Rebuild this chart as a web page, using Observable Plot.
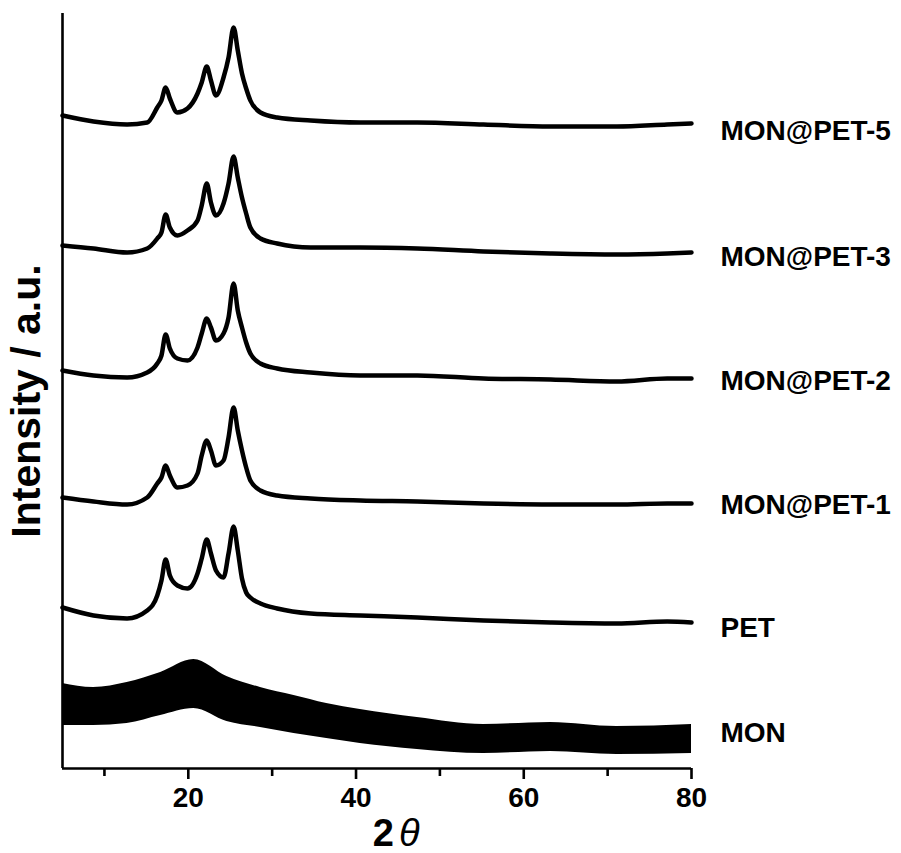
<!DOCTYPE html>
<html><head><meta charset="utf-8">
<script src="https://cdn.jsdelivr.net/npm/d3@7"></script>
<script src="https://cdn.jsdelivr.net/npm/@observablehq/plot@0.6"></script>
<style>body{margin:0;background:#fff} #chart svg{display:block}</style>
</head><body><div id="chart"></div>
<script>
// 2θ sampling positions (degrees)
const theta = [5, 8.7, 12.7, 15.1, 16.3, 16.8, 17.3, 17.8, 18.7, 19.9, 21.1, 21.6, 22.2, 22.7, 23.3, 24.2, 24.8, 25.4, 25.9, 26.4, 26.9, 27.4, 28.6, 30.6, 34.6, 40.5, 47.3, 55.2, 63.2, 71.1, 77.1, 80];
// Stacked intensities (a.u., offset included)
const monPet5 = [653, 647, 644, 646, 661, 668, 681, 670, 656, 660, 675, 686, 702, 688, 673, 691, 711, 741, 718, 695, 680, 668, 656, 651, 648, 646, 646, 644, 642, 642, 644, 645];
const monPet3 = [523, 520, 516, 520, 530, 536, 554, 541, 533, 538, 548, 563, 585, 566, 553, 565, 585, 612, 591, 571, 555, 541, 530, 525, 521, 521, 520, 517, 515, 514, 515, 516];
const monPet2 = [398, 393, 391, 396, 405, 413, 434, 420, 410, 408, 421, 435, 450, 441, 428, 435, 451, 485, 458, 441, 426, 415, 405, 400, 396, 393, 393, 390, 389, 387, 390, 390];
const monPet1 = [271, 267, 264, 271, 285, 291, 303, 293, 281, 283, 295, 313, 328, 318, 303, 308, 331, 361, 338, 318, 301, 288, 278, 273, 270, 268, 267, 265, 264, 264, 265, 265];
const pet     = [161, 153, 150, 158, 173, 188, 209, 193, 183, 180, 195, 210, 229, 215, 198, 191, 215, 242, 218, 190, 176, 171, 165, 160, 155, 153, 151, 148, 146, 145, 147, 146];
// MON: broad amorphous hump, drawn as its noise envelope
const monTheta = [5, 8.7, 12.7, 16.7, 20.65, 24.6, 28.6, 32.6, 36.5, 40.5, 47.3, 55.2, 63.2, 71.1, 80];
const monLow  = [43, 43, 45, 53, 60, 47, 41, 35, 30, 25, 19, 15, 17, 14, 15];
const monHigh = [85, 81, 86, 96, 109, 92, 81, 73, 65, 59, 51, 44, 46, 42, 44];
// Labels and their vertical levels
const names = ["MON@PET-5", "MON@PET-3", "MON@PET-2", "MON@PET-1", "PET", "MON"];
const labelLevel = [637, 511, 387, 263, 140, 35];
const majorTicks = [20, 40, 60, 80];
const minorTicks = [10, 30, 50, 70];

const seriesValues = [monPet5, monPet3, monPet2, monPet1, pet];
const rows = seriesValues.flatMap((vals, k) => theta.map((t, i) => ({name: names[k], x: t, y: vals[i]})));
const monRows = monTheta.map((t, i) => ({x: t, lo: monLow[i], hi: monHigh[i]}));
const labels = names.map((n, i) => ({name: n, x: 80, y: labelLevel[i]}));

const FONT = "'Liberation Sans', Arial, sans-serif";
const chart = Plot.plot({
  width: 901, height: 853,
  marginLeft: 62, marginRight: 210, marginTop: 13, marginBottom: 85,
  style: {fontFamily: FONT, background: "#fff", color: "#000"},
  x: {domain: [5, 80], axis: null},
  y: {domain: [0, 755], axis: null},
  marks: [
    Plot.areaY(monRows, {x: "x", y1: "lo", y2: "hi", fill: "#000", curve: "monotone-x"}),
    Plot.lineY(rows, {x: "x", y: "y", z: "name", stroke: "#000", strokeWidth: 4.5, strokeLinejoin: "round", curve: "monotone-x"}),
    Plot.ruleX([5], {stroke: "#000", strokeWidth: 2.6}),
    Plot.ruleY([0], {stroke: "#000", strokeWidth: 2.6}),
    Plot.axisX(majorTicks, {tickSize: 11, tickPadding: 8, strokeWidth: 2.6, fontSize: 28, fontWeight: "bold", label: null, tickFormat: d => String(d)}),
    Plot.axisX(minorTicks, {tickSize: 8, strokeWidth: 2.6, text: null, label: null}),
    Plot.text(labels, {x: "x", y: "y", text: "name", dx: 29, textAnchor: "start", fontSize: 28, fontWeight: "bold", fill: "#000"}),
    Plot.text(["Intensity / a.u."], {frameAnchor: "left", textAnchor: "middle", dx: -36, dy: 10, rotate: -90, fontSize: 41, fontWeight: "bold", fill: "#000"}),
    Plot.text(["2"], {frameAnchor: "bottom", textAnchor: "end", dx: 17, dy: 77, fontSize: 38, fontWeight: "bold", fill: "#000"}),
    Plot.text(["\u03B8"], {frameAnchor: "bottom", textAnchor: "start", dx: 22, dy: 77, fontSize: 38, fontStyle: "italic", fill: "#000"})
  ]
});
document.getElementById("chart").appendChild(chart);
</script>
</body></html>
